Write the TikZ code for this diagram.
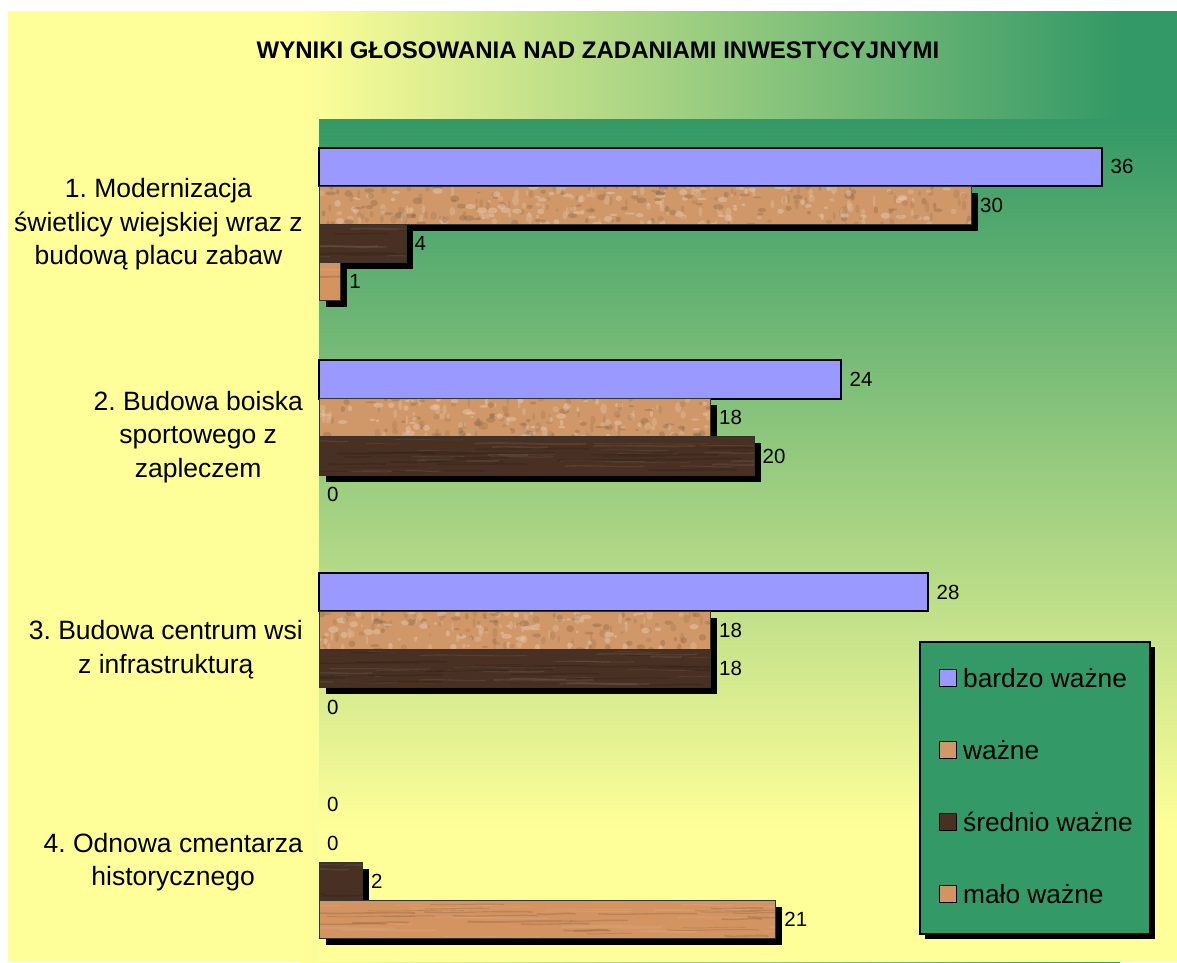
\documentclass[tikz,border=0pt]{standalone}
\usepackage{fontspec}
\setmainfont{Liberation Sans}
\frenchspacing
\definecolor{yel}{RGB}{255,255,153}
\definecolor{grn}{RGB}{51,153,102}
\definecolor{blu}{RGB}{153,153,255}
\definecolor{cork}{RGB}{208,152,104}
\definecolor{dwood}{RGB}{72,48,34}
\definecolor{lwood}{RGB}{212,148,98}
\tikzset{
  bluebar/.style={draw=black, line width=2pt, fill=blu},
  texbar/.style={draw=black!80, line width=1pt},
  shadowbox/.style={fill=black},
  val/.style={inner sep=0pt, font=\fontsize{20.5}{24}\selectfont},
  cat/.style={anchor=east, align=center, inner sep=0pt, font=\fontsize{26.5}{33.5}\selectfont},
  legtext/.style={anchor=west, inner sep=0pt, font=\fontsize{26.3}{30}\selectfont},
  legsq/.style={draw=black, line width=1.5pt, minimum size=17pt, inner sep=0pt},
}
\begin{document}
\begin{tikzpicture}[x=1pt,y=-1pt]
\pgfmathsetseed{7}
\useasboundingbox (0,0) rectangle (1177,962);
% outer background
\fill[yel] (8,11) rectangle (300,962);
\shade[left color=yel, right color=grn] (299.5,11) rectangle (1120,962);
\fill[grn] (1119.5,11) rectangle (1177,962);
% plot area
\shade[top color=grn, bottom color=yel] (319,119) rectangle (1177,830);
\fill[yel] (319,829.5) rectangle (1177,962);
% title
\node[font=\fontsize{24}{28}\selectfont\bfseries, inner sep=0pt] (title) at (598,50) {WYNIKI GŁOSOWANIA NAD ZADANIAMI INWESTYCYJNYMI};
% bars
\foreach \g/\a/\b/\c/\d in {0/36/30/4/1, 1/24/18/20/0, 2/28/18/18/0, 3/0/0/2/21}{
  \foreach \s/\v/\col in {0/\a/blu, 1/\b/cork, 2/\c/dwood, 3/\d/lwood}{
    \pgfmathsetmacro\yt{147.7+\g*212.67+\s*38.3}
    \pgfmathsetmacro\yb{\yt+38.3}
    \pgfmathsetmacro\ym{\yt+19.15}
    \pgfmathsetmacro\xe{319+\v*21.75}
    \pgfmathsetmacro\bwid{\v*21.75}
    \ifnum\v>0
      \ifnum\s=0
        \draw[bluebar] (319,\yt) rectangle (\xe,\yb);
      \else
        \fill[shadowbox] (325.5,\yt+6.5) rectangle (\xe+6.5,\yb+6.5);
        \fill[\col] (319,\yt) rectangle (\xe,\yb);
        \begin{scope}
          \clip (319,\yt) rectangle (\xe,\yb);
          \ifnum\s=1
            \pgfmathtruncatemacro\nn{max(2,\bwid*0.55)}
            \foreach \k in {1,...,\nn}{
              \pgfmathsetmacro\rx{319+rnd*\bwid}
              \pgfmathsetmacro\ry{\yt+rnd*38.3}
              \pgfmathsetmacro\rr{1.5+rnd*4}
              \pgfmathsetmacro\rq{1+rnd*2.5}
              \pgfmathtruncatemacro\rc{mod(\k,4)}
              \ifcase\rc
                \fill[cork!65!black, opacity=0.35] (\rx,\ry) ellipse ({\rr} and {\rq});
              \or
                \fill[cork!50!white, opacity=0.45] (\rx,\ry) ellipse ({\rr} and {\rq});
              \or
                \fill[cork!80!black, opacity=0.35] (\rx,\ry) ellipse ({\rq} and {\rr});
              \else
                \fill[cork!65!white, opacity=0.45] (\rx,\ry) ellipse ({\rq} and {\rr});
              \fi
            }
          \else
            \pgfmathtruncatemacro\nn{max(2,\bwid*0.12)}
            \foreach \k in {1,...,\nn}{
              \pgfmathsetmacro\rx{319-30+rnd*(\bwid+30)}
              \pgfmathsetmacro\ry{\yt+2+rnd*34}
              \pgfmathsetmacro\rl{25+rnd*90}
              \pgfmathsetmacro\rw{0.6+rnd*1.4}
              \pgfmathtruncatemacro\rc{mod(\k,2)}
              \ifcase\rc
                \draw[\col!70!black, line width=\rw pt, opacity=0.4] (\rx,\ry) .. controls (\rx+\rl*0.3,\ry+1.5) and (\rx+\rl*0.7,\ry-1.5) .. (\rx+\rl,\ry);
              \else
                \draw[\col!75!white, line width=\rw pt, opacity=0.3] (\rx,\ry) .. controls (\rx+\rl*0.3,\ry-1.5) and (\rx+\rl*0.7,\ry+1.5) .. (\rx+\rl,\ry);
              \fi
            }
          \fi
        \end{scope}
        \draw[texbar] (319,\yt) rectangle (\xe,\yb);
      \fi
      \node[val, anchor=west] (v\g\s) at (\xe+8.5,\ym) {\v};
    \else
      \node[val, anchor=west] (v\g\s) at (327,\ym) {0};
    \fi
  }
}
% category labels
\node[cat] (cat1) at (303,224.3) {1. Modernizacja\\świetlicy wiejskiej wraz z\\budową placu zabaw};
\node[cat] (cat2) at (303,437) {2. Budowa boiska\\sportowego z\\zapleczem};
\node[cat] (cat3) at (303,649.6) {3. Budowa centrum wsi\\z infrastrukturą};
\node[cat] (cat4) at (303,862.3) {4. Odnowa cmentarza\\historycznego};
% legend
\fill[shadowbox] (925,647) rectangle (1155,939);
\node[draw=black, line width=1.5pt, fill=grn, anchor=north west, minimum width=230pt, minimum height=292pt, inner sep=0pt] (legend) at (919,641) {};
\foreach \i/\t/\col in {0/bardzo ważne/blu, 1/ważne/cork, 2/średnio ważne/dwood, 3/mało ważne/lwood}{
  \node[legsq, fill=\col] (sq\i) at (947.8,678+\i*72) {};
  \node[legtext] (leg\i) at (963,678+\i*72) {\t};
}
\end{tikzpicture}
\end{document}
